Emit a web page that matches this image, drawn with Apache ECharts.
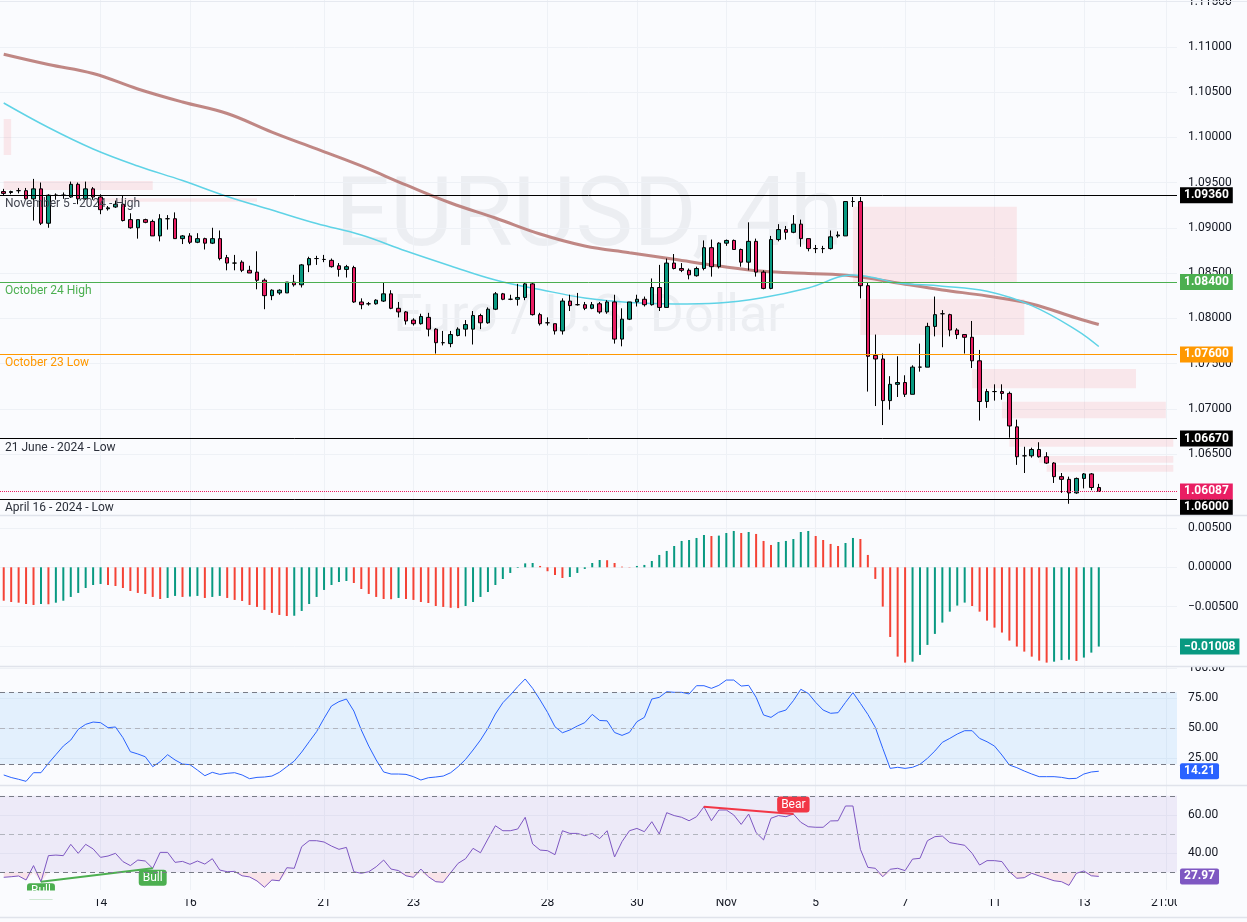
<!DOCTYPE html>
<html><head><meta charset="utf-8">
<script src="https://cdn.jsdelivr.net/npm/echarts@6/dist/echarts.min.js"></script>
<style>html,body{margin:0;padding:0;background:#fafbfe;}#c{width:1247px;height:922px;}</style>
</head><body><div id="c"></div>
<script>
// ---------- DATA ----------
// 4h candles: [open, close, low, high]
const candles = [
[1.0940,1.0938,1.0936,1.0943],[1.0939,1.0940,1.0937,1.0941],[1.0941,1.0941,1.0938,1.0944],[1.0941,1.0932,1.0931,1.0944],
[1.0932,1.0943,1.0908,1.0954],[1.0943,1.0905,1.0903,1.0950],[1.0905,1.0936,1.0900,1.0937],[1.0936,1.0936,1.0931,1.0938],
[1.0936,1.0936,1.0932,1.0939],[1.0934,1.0948,1.0933,1.0951],[1.0948,1.0932,1.0926,1.0950],[1.0932,1.0943,1.0931,1.0951],
[1.0943,1.0934,1.0931,1.0945],[1.0934,1.0920,1.0915,1.0937],[1.0921,1.0922,1.0919,1.0924],[1.0923,1.0926,1.0922,1.0930],
[1.0926,1.0908,1.0907,1.0936],[1.0909,1.0900,1.0899,1.0916],[1.0900,1.0909,1.0888,1.0909],[1.0909,1.0906,1.0905,1.0910],
[1.0907,1.0891,1.0891,1.0909],[1.0891,1.0910,1.0885,1.0915],[1.0910,1.0910,1.0898,1.0914],[1.0910,1.0888,1.0888,1.0917],
[1.0888,1.0891,1.0882,1.0892],[1.0891,1.0884,1.0882,1.0894],[1.0884,1.0888,1.0883,1.0894],[1.0888,1.0883,1.0876,1.0889],
[1.0883,1.0888,1.0882,1.0900],[1.0888,1.0866,1.0864,1.0897],[1.0867,1.0861,1.0853,1.0870],[1.0861,1.0861,1.0853,1.0870],
[1.0862,1.0853,1.0851,1.0864],[1.0853,1.0850,1.0850,1.0858],[1.0851,1.0842,1.0832,1.0874],[1.0842,1.0825,1.0810,1.0844],
[1.0825,1.0831,1.0820,1.0832],[1.0828,1.0831,1.0826,1.0832],[1.0828,1.0840,1.0828,1.0840],[1.0840,1.0837,1.0835,1.0848],
[1.0837,1.0859,1.0834,1.0860],[1.0859,1.0866,1.0851,1.0868],[1.0866,1.0866,1.0859,1.0869],[1.0865,1.0865,1.0862,1.0870],
[1.0864,1.0857,1.0856,1.0866],[1.0858,1.0854,1.0846,1.0861],[1.0854,1.0857,1.0845,1.0859],[1.0856,1.0818,1.0817,1.0858],
[1.0818,1.0815,1.0810,1.0822],[1.0816,1.0816,1.0814,1.0818],[1.0816,1.0820,1.0815,1.0821],[1.0819,1.0827,1.0818,1.0839],
[1.0827,1.0811,1.0810,1.0831],[1.0811,1.0807,1.0801,1.0818],[1.0807,1.0797,1.0793,1.0808],[1.0798,1.0794,1.0792,1.0800],
[1.0794,1.0802,1.0793,1.0805],[1.0801,1.0788,1.0780,1.0806],[1.0788,1.0773,1.0761,1.0789],[1.0773,1.0773,1.0770,1.0786],
[1.0772,1.0782,1.0768,1.0786],[1.0781,1.0788,1.0780,1.0790],[1.0788,1.0793,1.0780,1.0798],[1.0788,1.0803,1.0771,1.0808],
[1.0803,1.0795,1.0788,1.0805],[1.0795,1.0810,1.0794,1.0812],[1.0810,1.0827,1.0809,1.0829],[1.0827,1.0821,1.0820,1.0828],
[1.0821,1.0821,1.0820,1.0826],[1.0821,1.0823,1.0814,1.0838],[1.0823,1.0838,1.0820,1.0839],[1.0838,1.0804,1.0803,1.0839],
[1.0804,1.0794,1.0792,1.0806],[1.0795,1.0795,1.0792,1.0801],[1.0794,1.0786,1.0782,1.0794],[1.0786,1.0819,1.0782,1.0822],
[1.0819,1.0814,1.0808,1.0826],[1.0815,1.0815,1.0814,1.0828],[1.0815,1.0811,1.0809,1.0818],[1.0811,1.0815,1.0810,1.0818],
[1.0816,1.0807,1.0805,1.0818],[1.0807,1.0818,1.0805,1.0820],[1.0818,1.0777,1.0772,1.0826],[1.0777,1.0799,1.0769,1.0811],
[1.0799,1.0818,1.0798,1.0818],[1.0818,1.0821,1.0813,1.0826],[1.0821,1.0815,1.0813,1.0824],[1.0815,1.0834,1.0814,1.0844],
[1.0834,1.0812,1.0808,1.0859],[1.0812,1.0861,1.0812,1.0866],[1.0861,1.0855,1.0854,1.0871],[1.0855,1.0853,1.0851,1.0861],
[1.0853,1.0848,1.0843,1.0855],[1.0847,1.0855,1.0846,1.0857],[1.0855,1.0878,1.0853,1.0886],[1.0878,1.0857,1.0846,1.0887],
[1.0857,1.0883,1.0855,1.0884],[1.0883,1.0886,1.0880,1.0887],[1.0886,1.0876,1.0876,1.0887],[1.0876,1.0862,1.0857,1.0877],
[1.0862,1.0885,1.0853,1.0906],[1.0885,1.0851,1.0846,1.0888],[1.0851,1.0833,1.0832,1.0853],[1.0833,1.0887,1.0832,1.0891],
[1.0887,1.0898,1.0885,1.0904],[1.0898,1.0895,1.0887,1.0902],[1.0895,1.0904,1.0894,1.0914],[1.0904,1.0888,1.0879,1.0909],
[1.0888,1.0877,1.0874,1.0888],[1.0877,1.0877,1.0872,1.0881],[1.0877,1.0877,1.0872,1.0880],[1.0877,1.0890,1.0876,1.0897],
[1.0891,1.0892,1.0889,1.0896],[1.0891,1.0929,1.0891,1.0929],[1.0929,1.0929,1.0923,1.0934],[1.0929,1.0836,1.0822,1.0934],
[1.0836,1.0758,1.0719,1.0839],[1.0759,1.0755,1.0703,1.0782],[1.0755,1.0709,1.0682,1.0761],[1.0709,1.0727,1.0699,1.0736],
[1.0727,1.0729,1.0713,1.0758],[1.0729,1.0716,1.0713,1.0737],[1.0716,1.0746,1.0716,1.0748],[1.0746,1.0746,1.0741,1.0772],
[1.0746,1.0791,1.0746,1.0795],[1.0791,1.0804,1.0780,1.0824],[1.0805,1.0805,1.0768,1.0809],[1.0804,1.0787,1.0780,1.0805],
[1.0787,1.0782,1.0777,1.0789],[1.0782,1.0779,1.0761,1.0782],[1.0779,1.0753,1.0745,1.0797],[1.0753,1.0708,1.0687,1.0765],
[1.0708,1.0719,1.0701,1.0722],[1.0719,1.0719,1.0709,1.0727],[1.0719,1.0717,1.0710,1.0727],[1.0717,1.0681,1.0668,1.0719],
[1.0680,1.0647,1.0638,1.0688],[1.0648,1.0648,1.0629,1.0658],[1.0648,1.0655,1.0646,1.0657],[1.0655,1.0647,1.0646,1.0663],
[1.0647,1.0640,1.0639,1.0652],[1.0640,1.0625,1.0618,1.0641],[1.0625,1.0622,1.0607,1.0629],[1.0622,1.0607,1.0595,1.0625],
[1.0607,1.0623,1.0606,1.0624],[1.0623,1.0628,1.0612,1.0629],[1.0628,1.0613,1.0610,1.0629],[1.0613,1.06087,1.0609,1.0617]
];
// moving averages read at candle indices: [index, price]
const maSlowPts = [[0,1.10917],[6,1.10804],[12,1.10705],[18,1.10534],[24,1.10390],[30,1.10263],[36,1.10058],[42,1.09871],
[48,1.09683],[54,1.09473],[60,1.09274],[66,1.09108],[72,1.08931],[78,1.08799],[84,1.08725],[90,1.08652],[96,1.08578],
[102,1.08519],[108,1.08495],[114,1.08467],[120,1.08390],[126,1.08313],[132,1.08246],[138,1.08158],[144,1.08003],[147,1.07931]];
const maFastPts = [[0,1.10379],[6,1.10108],[12,1.09871],[18,1.09683],[24,1.09522],[30,1.09346],[36,1.09196],[42,1.09047],
[48,1.08920],[54,1.08743],[60,1.08578],[66,1.08423],[72,1.08318],[78,1.08224],[84,1.08174],[90,1.08158],[96,1.08169],
[102,1.08230],[108,1.08334],[114,1.08478],[117,1.08445],[120,1.08390],[126,1.08355],[132,1.08298],[138,1.08140],[144,1.07870],[147,1.07688]];
// MACD histogram
const macdHist = [
-0.00425,-0.00441,-0.00450,-0.00467,-0.00479,-0.00467,-0.00470,-0.00450,-0.00425,-0.00377,
-0.00326,-0.00263,-0.00225,-0.00212,-0.00225,-0.00238,-0.00263,-0.00301,-0.00326,-0.00339,
-0.00377,-0.00403,-0.00390,-0.00364,-0.00377,-0.00372,-0.00364,-0.00390,-0.00377,-0.00364,
-0.00390,-0.00415,-0.00428,-0.00479,-0.00504,-0.00542,-0.00580,-0.00606,-0.00619,-0.00616,
-0.00555,-0.00467,-0.00377,-0.00288,-0.00225,-0.00187,-0.00174,-0.00200,-0.00276,-0.00339,
-0.00377,-0.00403,-0.00406,-0.00390,-0.00403,-0.00415,-0.00441,-0.00454,-0.00492,-0.00504,
-0.00515,-0.00519,-0.00492,-0.00441,-0.00377,-0.00314,-0.00225,-0.00149,-0.00072,-0.00008,
0.00050,0.00055,0.00017,-0.00050,-0.00098,-0.00136,-0.00123,-0.00072,-0.00021,0.00055,
0.00093,0.00090,0.00055,0.00008,0.00004,0.00017,0.00030,0.00080,0.00157,0.00208,
0.00271,0.00335,0.00347,0.00373,0.00411,0.00398,0.00403,0.00436,0.00462,0.00436,
0.00449,0.00424,0.00335,0.00284,0.00322,0.00335,0.00360,0.00449,0.00462,0.00398,
0.00347,0.00297,0.00271,0.00309,0.00373,0.00360,0.00157,-0.00148,-0.00500,-0.00886,
-0.01136,-0.01212,-0.01200,-0.01114,-0.00987,-0.00847,-0.00703,-0.00564,-0.00487,-0.00449,
-0.00492,-0.00564,-0.00678,-0.00767,-0.00830,-0.00932,-0.01008,-0.01072,-0.01136,-0.01187,
-0.01212,-0.01200,-0.01180,-0.01175,-0.01191,-0.01148,-0.01085,-0.01008
];
// Stochastic %K
const stochK = [
11.1,9.0,7.5,5.8,13.0,13.0,20.8,28.0,35.2,40.2,49.1,53.3,55.2,54.7,50.5,51.1,42.2,30.5,28.6,26.3,
18.0,22.2,28.0,23.6,20.2,19.7,15.2,10.5,13.3,11.6,12.5,13.0,11.1,8.0,9.1,9.4,10.2,13.3,18.0,22.7,
30.2,38.8,47.2,58.3,68.6,72.2,74.4,64.4,48.6,35.2,23.6,13.6,11.9,11.9,11.6,9.7,6.9,8.8,9.4,10.2,
13.0,18.0,24.1,31.9,40.2,50.0,61.9,71.3,77.7,84.7,91.1,83.3,73.6,63.3,51.3,46.3,48.6,51.9,54.7,61.6,
56.5,56.2,46.5,44.1,46.6,55.5,59.1,74.4,75.8,80.5,80.0,80.0,78.6,85.5,85.5,83.3,85.8,90.2,90.2,85.2,
85.8,75.8,61.1,59.1,63.3,65.2,73.0,82.5,79.1,71.6,65.2,62.5,63.0,71.6,79.7,70.8,61.6,50.8,33.3,16.6,
17.5,16.6,17.5,20.0,25.0,31.1,38.3,41.6,45.2,48.0,48.0,41.6,38.8,35.2,27.7,19.4,17.2,14.4,11.9,9.7,
9.7,9.7,9.1,8.0,8.3,11.9,13.6,14.21
];
// RSI
const rsi = [
27.5,27.8,28.2,26.1,33.6,25.2,38.8,39.1,38.8,44.7,40.0,44.7,42.3,37.9,38.6,40.0,35.7,33.6,36.5,36.0,
32.2,40.5,40.5,35.3,35.8,34.3,36.0,34.4,37.2,31.3,30.4,30.6,28.3,27.7,25.6,22.3,26.1,25.7,32.5,32.2,
43.5,46.6,46.6,45.9,43.8,42.1,43.1,30.4,29.6,30.4,33.0,36.5,31.8,31.0,28.3,27.5,31.8,27.8,25.2,24.9,
29.9,34.8,37.2,42.6,40.3,47.5,54.4,51.8,51.8,52.7,58.8,44.9,41.7,41.4,39.3,51.8,50.4,50.4,49.2,50.4,
47.7,51.8,38.1,46.1,51.8,53.0,51.3,56.5,50.1,61.2,59.7,58.8,57.0,59.1,64.3,57.0,62.6,62.6,60.0,55.1,
60.5,50.8,47.0,58.3,59.7,59.1,60.5,56.2,53.9,53.6,53.6,56.9,57.0,64.7,64.7,42.1,32.7,32.2,27.8,31.7,
32.2,31.0,37.0,37.4,46.6,48.7,49.0,45.6,44.9,44.2,40.0,33.9,36.2,36.2,35.7,30.4,27.0,27.3,29.6,28.2,
27.0,25.7,25.2,23.3,29.6,30.8,28.3,27.97
];
const slotCount = 158; // candles + empty future slots
const xTickIdx = [13,25,43,55,73,85,97,109,121,133,145,156];
const xTickLabels = ['14','16','21','23','28','30','Nov','5','7','11','13','21:00'];
const priceTicks = [1.060,1.065,1.070,1.075,1.080,1.085,1.090,1.095,1.100,1.105,1.110,1.115];
const macdTicks = [-0.010,-0.005,0,0.005];
const stochTicks = [25,50,75,100];
const rsiTicks = [40,60];
const levelPrices = [1.0936,1.0840,1.0760,1.0667,1.0600];
const levelTexts = ['November 5 - 2024 - High','October 24 High','October 23 Low','21 June - 2024 - Low','April 16 - 2024 - Low'];
const lastPrice = 1.06087;
// supply/demand zones: [fromIndex, toIndex, upperPrice, lowerPrice]
const zones = [[0,1,1.10202,1.09804],[0,20,1.09517,1.09417],[12,34,1.09326,1.09288],[114,136,1.09233,1.08398],
[115,137,1.08213,1.07815],[130,152,1.07440,1.07226],[134,156,1.07078,1.06895],[135,157,1.06674,1.06581],
[139,157,1.06478,1.06404],[140,157,1.06379,1.06305]];
const stochLevels = [80,50,20];
const rsiLevels = [70,50,30];
const bullDiv = [5,20];
const bearDiv = [94,106];

// ---------- STYLE / LAYOUT ----------
const FONT = 'Roboto';
const BG = '#fafbfe';
const GRIDC = '#eef1f6';
const UP = '#089981', DOWN = '#e91e63';
const HUP = '#089981', HDOWN = '#f44336';
const CLEAR = 'rgba(0,0,0,0)';
const levelLine = ['#000000','#4caf50','#ff9800','#000000','#000000'];
const levelText = ['#434651','#4caf50','#ff9800','#2a2e39','#2a2e39'];
const levelBadge = ['#000000','#4caf50','#ff9800','#000000','#000000'];
const levelBadgeShift = [0, 0, 0, 0, 8]; // px push-down to avoid overlap with last-price badge

const cats = Array.from({length: slotCount}, (_, i) => String(i));
const tickMap = {};
xTickIdx.forEach((v, k) => { tickMap[v] = xTickLabels[k]; });
const nulls = cats.map(() => null);

const grids = [
  {left: 0, right: 70, top: 0, height: 515},
  {left: 0, right: 70, top: 515, height: 151.7},
  {left: 0, right: 70, top: 666.7, height: 118.6},
  {left: 0, right: 70, top: 785.3, height: 104.7}
].map(g => Object.assign(g, {containLabel: false, outerBoundsMode: 'none'}));

const vLines = {silent: true, symbol: ['none','none'], z: 0, precision: 6,
  lineStyle: {color: GRIDC, width: 1, type: 'solid'}, label: {show: false},
  data: xTickIdx.map(i => ({xAxis: i}))};

function yAx(k, min, max, ticks, fmt) {
  return {type: 'value', gridIndex: k, position: 'right', min: min, max: max,
    axisLine: {show: false},
    axisTick: {show: false, customValues: ticks},
    axisLabel: {customValues: ticks, formatter: fmt, color: '#131722', fontFamily: FONT, fontSize: 12, margin: 11},
    splitLine: {show: true, lineStyle: {color: GRIDC, width: 1}}};
}
const minus = v => (v < 0 ? '\u2212' : '') + Math.abs(v).toFixed(5);
const badge = (bg) => ({show: true, position: 'end', distance: 3, backgroundColor: bg, color: '#ffffff',
  fontFamily: FONT, fontSize: 12, fontWeight: 'bold', padding: [2, 4, 2, 4], borderRadius: 2});

// main level lines
const levelMarks = [];
levelPrices.forEach((p, k) => {
  levelMarks.push({yAxis: p, lineStyle: {color: levelLine[k], width: 1, type: 'solid'},
    label: {show: true, position: 'insideStartBottom', distance: [5, 3], formatter: levelTexts[k],
      color: levelText[k], fontFamily: FONT, fontSize: 12}});
  levelMarks.push({yAxis: p, lineStyle: {color: CLEAR, width: 0},
    label: Object.assign(badge(levelBadge[k]), {formatter: p.toFixed(5), borderRadius: 0, offset: [0, levelBadgeShift[k]]})});
});
levelMarks.push({yAxis: lastPrice, lineStyle: {color: DOWN, width: 1, type: 'dotted'},
  label: Object.assign(badge(DOWN), {formatter: lastPrice.toFixed(5), borderRadius: 0})});

const macdItems = macdHist.map((v, i) => ({value: v,
  itemStyle: {color: (i > 0 && v > macdHist[i - 1]) ? HUP : HDOWN}}));

const levelLinesFor = (levels) => levels.map((v, k) => ({yAxis: v,
  lineStyle: {color: k === 1 ? '#b2b5be' : '#787b86', width: 1, type: [5, 4]}}));

const divLabel = (txt, col, pos) => ({show: true, position: pos, distance: 1, formatter: txt,
  backgroundColor: col, color: '#ffffff', fontFamily: FONT, fontSize: 12, padding: [2, 4, 2, 4], borderRadius: 3});

const lastBadge = (val, text, bg, radius) => ({silent: true, symbol: ['none','none'], precision: 6,
  data: [{yAxis: val, lineStyle: {color: CLEAR, width: 0},
    label: Object.assign(badge(bg), {formatter: text, borderRadius: radius})}]});

const option = {
  animation: false,
  backgroundColor: BG,
  grid: grids,
  xAxis: grids.map((g, k) => ({type: 'category', gridIndex: k, data: cats, boundaryGap: true,
    axisLine: {show: false}, axisTick: {show: false}, splitLine: {show: false},
    axisLabel: k === 3 ? {show: true, interval: (idx) => tickMap[idx] !== undefined,
      formatter: (v, idx) => tickMap[idx] || '', color: '#131722', fontFamily: FONT, fontSize: 12, margin: 7,
      hideOverlap: false} : {show: false}})),
  yAxis: [
    yAx(0, 1.05826, 1.11517, priceTicks, v => v.toFixed(5)),
    yAx(1, -0.01264, 0.00665, macdTicks, minus),
    yAx(2, 2.5, 101.33, stochTicks, v => v.toFixed(2)),
    yAx(3, 20.88, 75.49, rsiTicks, v => v.toFixed(2))
  ],
  series: [
    {type: 'line', xAxisIndex: 0, yAxisIndex: 0, data: nulls, silent: true, symbol: 'none', z: 1,
      markLine: vLines,
      markArea: {silent: true, z: 1, itemStyle: {color: 'rgba(242,54,69,0.10)'},
        data: zones.map(z => [{xAxis: z[0], yAxis: z[2]}, {xAxis: z[1], yAxis: z[3]}])}},
    {type: 'line', xAxisIndex: 0, yAxisIndex: 0, data: maSlowPts, smooth: 0.4, symbol: 'none', silent: true, z: 2,
      lineStyle: {color: '#b5726e', width: 3, opacity: 0.85}},
    {type: 'line', xAxisIndex: 0, yAxisIndex: 0, data: maFastPts, smooth: 0.4, symbol: 'none', silent: true, z: 2,
      lineStyle: {color: '#5fd3e6', width: 1.5}},
    {type: 'candlestick', xAxisIndex: 0, yAxisIndex: 0, data: candles, barWidth: 4, z: 3,
      itemStyle: {color: UP, color0: DOWN, borderColor: '#000000', borderColor0: '#000000', borderColorDoji: '#000000', borderWidth: 1},
      markLine: {silent: true, symbol: ['none','none'], z: 5, precision: 6, data: levelMarks}},
    {type: 'line', xAxisIndex: 1, yAxisIndex: 1, data: nulls, silent: true, symbol: 'none', markLine: vLines},
    {type: 'bar', xAxisIndex: 1, yAxisIndex: 1, data: macdItems, barWidth: 2, z: 3,
      markLine: lastBadge(macdHist[macdHist.length - 1], minus(macdHist[macdHist.length - 1]), HUP, 0)},
    {type: 'line', xAxisIndex: 2, yAxisIndex: 2, data: nulls, silent: true, symbol: 'none', markLine: vLines,
      markArea: {silent: true, itemStyle: {color: 'rgba(33,150,243,0.10)'}, data: [[{yAxis: stochLevels[0]}, {yAxis: stochLevels[2]}]]}},
    {type: 'line', xAxisIndex: 2, yAxisIndex: 2, data: nulls, silent: true, symbol: 'none', z: 2,
      markLine: {silent: true, symbol: ['none','none'], label: {show: false}, data: levelLinesFor(stochLevels)}},
    {type: 'line', xAxisIndex: 2, yAxisIndex: 2, data: stochK, symbol: 'none', z: 3, lineStyle: {color: '#2962ff', width: 1},
      markLine: lastBadge(stochK[stochK.length - 1], stochK[stochK.length - 1].toFixed(2), '#2962ff', 2)},
    {type: 'line', xAxisIndex: 3, yAxisIndex: 3, data: nulls, silent: true, symbol: 'none', markLine: vLines,
      markArea: {silent: true, itemStyle: {color: 'rgba(126,87,194,0.10)'}, data: [[{yAxis: rsiLevels[0]}, {yAxis: rsiLevels[2]}]]}},
    {type: 'line', xAxisIndex: 3, yAxisIndex: 3, data: nulls, silent: true, symbol: 'none', z: 2,
      markLine: {silent: true, symbol: ['none','none'], label: {show: false}, data: levelLinesFor(rsiLevels)}},
    {type: 'line', xAxisIndex: 3, yAxisIndex: 3, stack: 'os', data: rsi.map(v => Math.min(v, rsiLevels[2])),
      symbol: 'none', silent: true, z: 2, lineStyle: {opacity: 0}},
    {type: 'line', xAxisIndex: 3, yAxisIndex: 3, stack: 'os', data: rsi.map(v => rsiLevels[2] - Math.min(v, rsiLevels[2])),
      symbol: 'none', silent: true, z: 2, lineStyle: {opacity: 0}, areaStyle: {color: 'rgba(242,54,69,0.16)'}},
    {type: 'line', xAxisIndex: 3, yAxisIndex: 3, data: rsi, symbol: 'none', z: 3, lineStyle: {color: '#7e57c2', width: 1},
      markLine: lastBadge(rsi[rsi.length - 1], rsi[rsi.length - 1].toFixed(2), '#7e57c2', 2)},
    {type: 'line', xAxisIndex: 3, yAxisIndex: 3, z: 4, silent: true, symbol: 'circle', symbolSize: 1,
      itemStyle: {color: '#4caf50'}, lineStyle: {color: '#4caf50', width: 2},
      data: bullDiv.map(i => ({value: [i, rsi[i]], label: divLabel('Bull', '#4caf50', 'bottom')}))},
    {type: 'line', xAxisIndex: 3, yAxisIndex: 3, z: 4, silent: true, symbol: 'circle', symbolSize: 1,
      itemStyle: {color: '#f23645'}, lineStyle: {color: '#f23645', width: 2},
      data: bearDiv.map((i, k) => ({value: [i, rsi[i]], label: k === 1 ? divLabel('Bear', '#f23645', 'top') : {show: false}}))}
  ],
  graphic: [
    {type: 'text', z: -1, silent: true, x: 589, y: 221, style: {text: 'EURUSD, 4h', font: '97px Roboto',
      fill: 'rgba(149,152,161,0.13)', textAlign: 'center', textVerticalAlign: 'middle', align: 'center', verticalAlign: 'middle'}},
    {type: 'text', z: -1, silent: true, x: 589, y: 318, style: {text: 'Euro / U.S. Dollar', font: '52px Roboto',
      fill: 'rgba(149,152,161,0.13)', textAlign: 'center', textVerticalAlign: 'middle', align: 'center', verticalAlign: 'middle'}},
    {type: 'rect', z: 100, silent: true, shape: {x: 0, y: 890.5, width: 1177, height: 8.5}, style: {fill: BG}},
    {type: 'rect', z: 100, silent: true, shape: {x: 1177, y: 893, width: 70, height: 22}, style: {fill: BG}},
    {type: 'rect', z: 100, silent: true, shape: {x: 1177, y: 660, width: 70, height: 6}, style: {fill: BG}},
    {type: 'line', z: 101, silent: true, shape: {x1: 0, y1: 1.5, x2: 1247, y2: 1.5}, style: {stroke: '#e6e9f0', lineWidth: 1}},
    {type: 'line', z: 101, silent: true, shape: {x1: 0, y1: 515.5, x2: 1247, y2: 515.5}, style: {stroke: '#e0e3eb', lineWidth: 1.5}},
    {type: 'line', z: 101, silent: true, shape: {x1: 0, y1: 666.5, x2: 1247, y2: 666.5}, style: {stroke: '#e0e3eb', lineWidth: 1.5}},
    {type: 'line', z: 101, silent: true, shape: {x1: 0, y1: 785.5, x2: 1247, y2: 785.5}, style: {stroke: '#e0e3eb', lineWidth: 1.5}},
    {type: 'line', z: 101, silent: true, shape: {x1: 0, y1: 917.5, x2: 1247, y2: 917.5}, style: {stroke: '#e0e3eb', lineWidth: 1.5}}
  ]
};
const chart = echarts.init(document.getElementById('c'), null, {renderer: 'canvas'});
chart.setOption(option);
</script>
</body></html>
